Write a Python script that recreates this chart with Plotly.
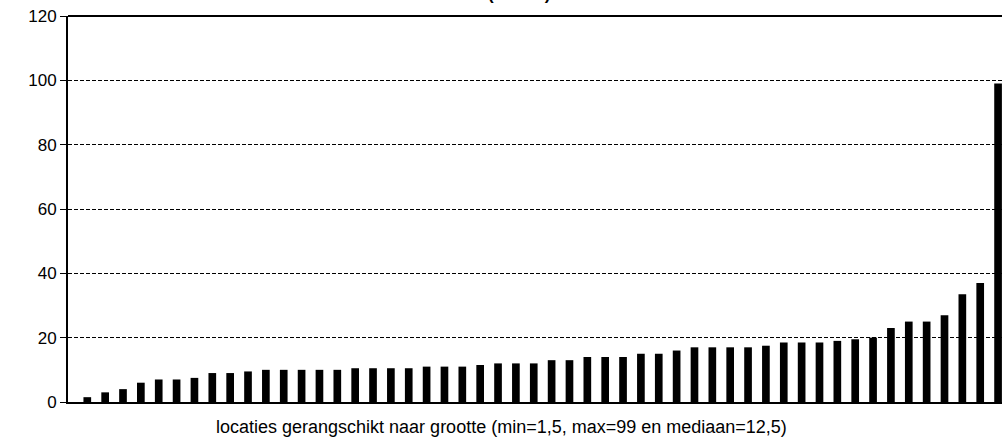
import plotly.graph_objects as go

# Data (values sorted ascending)
locations = list(range(1, 53))
values = [1.5, 3, 4, 6, 7, 7, 7.5, 9, 9, 9.5,
          10, 10, 10, 10, 10, 10.5, 10.5, 10.5, 10.5, 11,
          11, 11, 11.5, 12, 12, 12, 13, 13, 14, 14,
          14, 15, 15, 16, 17, 17, 17, 17, 17.5, 18.5,
          18.5, 18.5, 19, 19.5, 20, 23, 25, 25, 27, 33.5,
          37, 99]
y_ticks = [0, 20, 40, 60, 80, 100, 120]
title_text = "(ton/ha)"
x_title = "locaties gerangschikt naar grootte (min=1,5, max=99 en mediaan=12,5)"

fig = go.Figure(go.Bar(x=locations, y=values, width=0.43,
                       marker=dict(color="black", line=dict(width=0))))

fig.update_layout(
    width=1002, height=443,
    margin=dict(l=68, r=0, t=16, b=41),
    paper_bgcolor="white", plot_bgcolor="rgba(0,0,0,0)",
    showlegend=False,
    font=dict(family="Arial, Liberation Sans, sans-serif", color="black"),
    xaxis=dict(range=[-0.08, 52.22], showticklabels=False, ticks="",
               showgrid=False, zeroline=False,
               showline=True, linecolor="black", linewidth=2, mirror=False),
    yaxis=dict(range=[0, 120], tickvals=y_ticks, ticks="outside", ticklen=6,
               tickwidth=1, tickcolor="black", tickfont=dict(size=17),
               showgrid=True, gridcolor="black", gridwidth=1, griddash="4px,2px",
               zeroline=False, showline=True, linecolor="black", linewidth=2,
               mirror=False, automargin=False),
    shapes=[dict(type="line", xref="paper", yref="paper", x0=0, x1=1, y0=1, y1=1,
                 line=dict(color="black", width=2))],
    annotations=[
        dict(text="<b>" + title_text + "</b>", xref="paper", yref="paper",
             x=0.483, y=1.028, xanchor="center", yanchor="bottom",
             showarrow=False, font=dict(size=17), borderpad=0),
        dict(text=x_title, xref="paper", yref="paper",
             x=0.4636, y=-0.065, xanchor="center", yanchor="middle",
             showarrow=False, font=dict(size=18), borderpad=0),
    ],
)

fig.write_html("out.html", config={"displayModeBar": False},
               post_script="document.body.style.margin='0';document.body.style.overflow='hidden';")
